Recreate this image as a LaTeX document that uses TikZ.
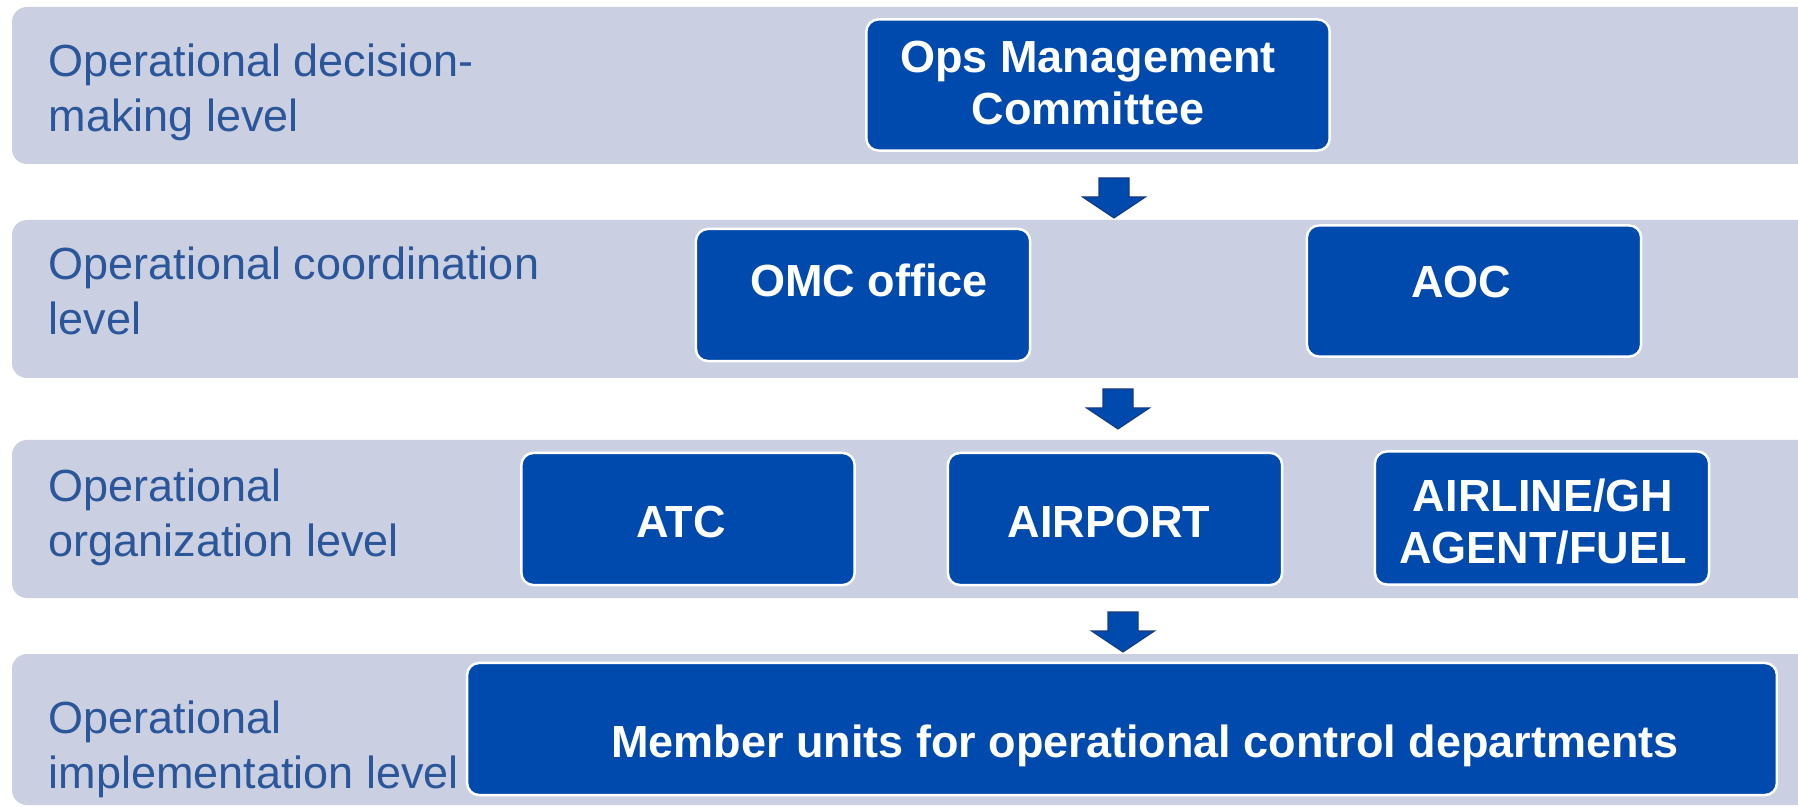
\documentclass[tikz,border=0pt]{standalone}
\usepackage{fontspec}
\setmainfont{Liberation Sans}
\usepackage{tikz}

\definecolor{bandgray}{RGB}{202,207,226}
\definecolor{unitblue}{RGB}{0,74,173}
\definecolor{labelblue}{RGB}{44,86,154}
\definecolor{arrowline}{RGB}{24,58,128}

\begin{document}
\begin{tikzpicture}[x=0.01cm,y=-0.01cm,
		level band/.style={fill=bandgray,rounded corners=0.15cm},
		level node/.style={anchor=west,align=left,inner sep=0pt,text=labelblue,font=\fontsize{12.8}{15.6}\selectfont},
		unit box/.style={rectangle,rounded corners=0.12cm,fill=unitblue,draw=white,line width=0.7pt,inner sep=0pt},
		unit text/.style={inner sep=0pt,align=center,text=white,font=\fontsize{12.8}{14.8}\selectfont\bfseries},
		down arrow/.pic={
			\path[fill=unitblue,draw=arrowline,line width=0.3pt]
			(-15,-40) -- (15,-40) -- (15,-21) -- (31.5,-21) -- (0,0) -- (-31.5,-21) -- (-15,-21) -- cycle;
		}]

		\clip (0,0) rectangle (1798,807);
		\fill[white] (0,0) rectangle (1798,807);

		% levels
		\path[level band] (12,7) rectangle (1830,164);
		\path[level band] (12,220) rectangle (1830,378);
		\path[level band] (12,440) rectangle (1830,598);
		\path[level band] (12,654) rectangle (1830,805);

		\node[level node] (decision) at (48,92) {Operational decision-\\making level};
		\node[level node] (coordination) at (48,291) {Operational coordination\\level};
		\node[level node] (organization) at (48,517) {Operational\\organization level};
		\node[level node] (implementation) at (48,749) {Operational\\implementation level};

		% units
		\node[unit box,minimum width=4.63cm,minimum height=1.31cm] (ops) at (1098,85) {};
		\node[unit box,minimum width=3.34cm,minimum height=1.32cm] (omc) at (863,295) {};
		\node[unit box,minimum width=3.34cm,minimum height=1.31cm] (aoc) at (1474,291) {};
		\node[unit box,minimum width=3.33cm,minimum height=1.32cm] (atc) at (688,519) {};
		\node[unit box,minimum width=3.34cm,minimum height=1.32cm] (airport) at (1115,519) {};
		\node[unit box,minimum width=3.34cm,minimum height=1.33cm] (airline) at (1542,518) {};
		\node[unit box,minimum width=13.09cm,minimum height=1.32cm] (member) at (1122,729) {};

		\node[unit text] (ops text) at (1088,83) {Ops Management\\Committee};
		\node[unit text] (omc text) at (869,280) {OMC office};
		\node[unit text] (aoc text) at (1461,282) {AOC};
		\node[unit text] (atc text) at (681,522) {ATC};
		\node[unit text] (airport text) at (1109,522) {AIRPORT};
		\node[unit text] (airline text) at (1543,522) {AIRLINE/GH\\AGENT/FUEL};
		\node[unit text] (member text) at (1145,746) {Member units for operational control departments};

		% block arrows between levels
		\pic (down1) at (1114,218) {down arrow};
		\pic (down2) at (1118,429) {down arrow};
		\pic (down3) at (1123,652) {down arrow};
	\end{tikzpicture}
\end{document}
